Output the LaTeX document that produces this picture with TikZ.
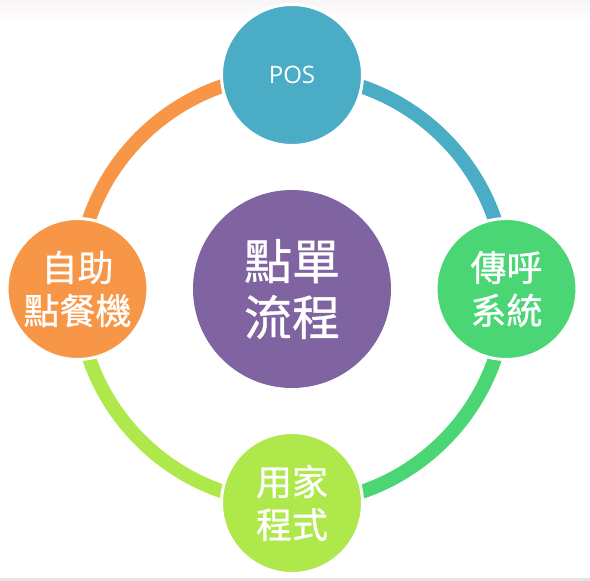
\documentclass[tikz,border=0pt]{standalone}
\usepackage{fontspec}
\newfontfamily\cjk[FakeBold=0.8]{Noto Sans CJK TC}
\newfontfamily\latinsans{Open Sans}
\definecolor{cteal}{HTML}{4BACC6}
\definecolor{cgreen}{HTML}{4AD674}
\definecolor{clime}{HTML}{AEE84B}
\definecolor{corange}{HTML}{F79646}
\definecolor{cpurple}{HTML}{8064A2}
\definecolor{cband}{HTML}{F8F4F8}
\definecolor{cstrip}{HTML}{E4E4E4}
\begin{document}
\begin{tikzpicture}[x=1pt,y=1pt,
  outer/.style={circle,draw=white,line width=3pt,minimum size=141pt,inner sep=0pt,text=white,align=center,
    font=\cjk\fontsize{36}{43}\selectfont},
  posfont/.style={font=\latinsans\fontsize{24}{28}\selectfont},
  ring/.style={line width=14pt}]
\useasboundingbox (0,0) rectangle (590,581);
\fill[white] (0,0) rectangle (590,581);
\shade[top color=cband,bottom color=white] (0,560) rectangle (590,581);
\fill[cstrip] (0,0) rectangle (590,3);
% node positions
\coordinate (ringc) at (292,292);
\coordinate (pos) at (292,506);
\coordinate (call) at (506.5,292);
\coordinate (app) at (292,78);
\coordinate (kiosk) at (77.5,292);
% arcs between nodes (behind)
\draw[ring,cteal] (pos) arc[start angle=90,end angle=0,radius=214.5pt];
\draw[ring,cgreen] (call) arc[start angle=0,end angle=-90,radius=214.5pt];
\draw[ring,clime] (app) arc[start angle=-90,end angle=-180,radius=214.5pt];
\draw[ring,corange] (kiosk) arc[start angle=180,end angle=90,radius=214.5pt];
% nodes on top
\node[outer,fill=cteal,posfont] (posn) at (pos) {POS};
\node[outer,fill=cgreen] (calln) at (call) {傳呼\\系統};
\node[outer,fill=clime] (appn) at (app) {用家\\程式};
\node[outer,fill=corange] (kioskn) at (kiosk) {自助\\點餐機};
\node[circle,fill=cpurple,minimum size=198pt,inner sep=0pt,text=white,align=center,
  font=\cjk\fontsize{48}{56}\selectfont] (main) at (ringc) {點單\\流程};
\end{tikzpicture}
\end{document}
